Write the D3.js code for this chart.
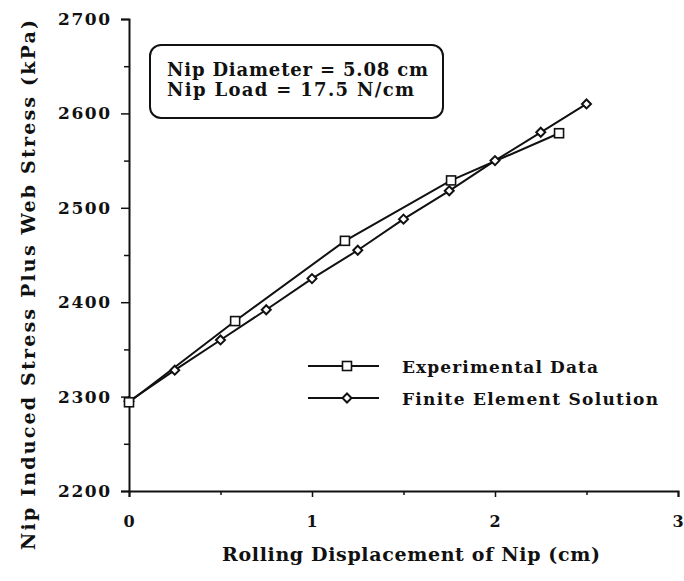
<!DOCTYPE html>
<html>
<head>
<meta charset="utf-8">
<script src="https://cdn.jsdelivr.net/npm/d3@7"></script>
<style>
  body { margin: 0; background: #fff; }
  svg text { font-family: 'DejaVu Serif', serif; font-weight: 700; }
</style>
</head>
<body>
<div id="root"></div>
<script>
const width = 684;
const height = 581;

// Data

const expX = [0, 0.58, 1.18, 1.76, 2.35];
const expY = [2294, 2380, 2465, 2529, 2579];

const feX = [0, 0.25, 0.5, 0.75, 1.0, 1.25, 1.5, 1.75, 2.0, 2.25, 2.5];
const feY = [2295, 2328, 2360, 2392, 2425, 2455, 2488, 2518, 2550, 2580, 2610];

const xTicks = [0, 1, 2, 3];
const xMinor = [0.5, 1.5, 2.5];
const yTicks = [2200, 2300, 2400, 2500, 2600, 2700];
const yMinor = [2250, 2350, 2450, 2550, 2650];

const seriesNames = ['Experimental Data', 'Finite Element Solution'];
const noteLines = ['Nip Diameter = 5.08 cm', 'Nip Load = 17.5 N/cm'];

// Scales

const x = d3.scaleLinear().domain([0, 3]).range([129, 678]);
const y = d3.scaleLinear().domain([2200, 2700]).range([491, 19]);

const svg = d3
  .select('#root')
  .append('svg')
  .attr('width', width)
  .attr('height', height);

// Axes

const yAxis = svg.append('g').attr('transform', `translate(${x(0)},0)`);
yAxis.call(d3.axisLeft(y).tickValues(yTicks).tickSize(8).tickFormat(''));
yAxis.append('g').call(d3.axisLeft(y).tickValues(yMinor).tickSize(5).tickFormat(''));

const xAxis = svg.append('g').attr('transform', `translate(0,${y(2200)})`);
xAxis.call(d3.axisBottom(x).tickValues(xTicks).tickSize(6).tickFormat(''));
xAxis.append('g').call(d3.axisBottom(x).tickValues(xMinor).tickSize(4).tickFormat(''));

svg.selectAll('.domain').attr('stroke', '#111').attr('stroke-width', 2);
svg.selectAll('.tick line').attr('stroke', '#111').attr('stroke-width', 1.5);
svg.selectAll('.domain').filter((d, i, n) => n[i].parentNode.parentNode !== svg.node()).remove();

const txt = svg.append('g').attr('fill', '#111');

// Tick labels

txt
  .append('g')
  .selectAll('text')
  .data(yTicks)
  .join('text')
  .attr('x', 58)
  .attr('y', (d) => y(d) + 6)
  .attr('font-size', 17)
  .attr('textLength', 52)
  .attr('lengthAdjust', 'spacing')
  .text((d) => d);

txt
  .append('g')
  .selectAll('text')
  .data(xTicks)
  .join('text')
  .attr('x', (d) => x(d))
  .attr('y', 527)
  .attr('font-size', 16)
  .attr('text-anchor', 'middle')
  .text((d) => d);

// Axis titles

txt
  .append('text')
  .attr('x', 222)
  .attr('y', 561)
  .attr('font-size', 19)
  .attr('textLength', 378)
  .attr('lengthAdjust', 'spacing')
  .text('Rolling Displacement of Nip (cm)');

txt
  .append('text')
  .attr('transform', 'translate(35,550) rotate(-90)')
  .attr('font-size', 19)
  .attr('textLength', 530)
  .attr('lengthAdjust', 'spacing')
  .text('Nip Induced Stress Plus Web Stress (kPa)');

// Lines

const line = d3.line().x((d) => x(d[0])).y((d) => y(d[1]));
const expData = d3.zip(expX, expY);
const feData = d3.zip(feX, feY);

svg
  .append('path')
  .datum(expData)
  .attr('d', line)
  .attr('fill', 'none')
  .attr('stroke', '#111')
  .attr('stroke-width', 2);

svg
  .append('path')
  .datum(feData)
  .attr('d', line)
  .attr('fill', 'none')
  .attr('stroke', '#111')
  .attr('stroke-width', 2);

// Markers

function square(g) {
  g.append('rect')
    .attr('x', -4.5)
    .attr('y', -4.5)
    .attr('width', 9)
    .attr('height', 9)
    .attr('fill', '#fff')
    .attr('stroke', '#111')
    .attr('stroke-width', 1.6);
}

function diamond(g) {
  g.append('path')
    .attr('d', 'M0,-4.5L4.5,0L0,4.5L-4.5,0Z')
    .attr('fill', '#fff')
    .attr('stroke', '#111')
    .attr('stroke-width', 2);
}

svg
  .append('g')
  .selectAll('g')
  .data(feData)
  .join('g')
  .attr('transform', (d) => `translate(${x(d[0])},${y(d[1])})`)
  .call(diamond);

svg
  .append('g')
  .selectAll('g')
  .data(expData)
  .join('g')
  .attr('transform', (d) => `translate(${x(d[0])},${y(d[1])})`)
  .call(square);

// Note box

svg
  .append('rect')
  .attr('x', 150)
  .attr('y', 45)
  .attr('width', 293)
  .attr('height', 73)
  .attr('rx', 11)
  .attr('fill', '#fff')
  .attr('stroke', '#111')
  .attr('stroke-width', 2);

svg
  .append('g')
  .attr('fill', '#111')
  .selectAll('text')
  .data(noteLines)
  .join('text')
  .attr('x', 167)
  .attr('y', (d, i) => 76 + 20 * i)
  .attr('font-size', 18)
  .attr('textLength', (d, i) => [261, 247][i])
  .attr('lengthAdjust', 'spacing')
  .text((d) => d);

// Legend

const legend = svg
  .append('g')
  .selectAll('g')
  .data(seriesNames)
  .join('g')
  .attr('transform', (d, i) => `translate(308,${366 + 32 * i})`);

legend
  .append('line')
  .attr('x1', 0)
  .attr('x2', 71)
  .attr('stroke', '#111')
  .attr('stroke-width', 2);

legend
  .append('g')
  .attr('transform', 'translate(39,0)')
  .each(function (d, i) {
    d3.select(this).call(i === 0 ? square : diamond);
  });

legend
  .append('text')
  .attr('x', 94)
  .attr('y', 7)
  .attr('fill', '#111')
  .attr('font-size', 17)
  .attr('textLength', (d, i) => [196, 256][i])
  .attr('lengthAdjust', 'spacing')
  .text((d) => d);
</script>
</body>
</html>
